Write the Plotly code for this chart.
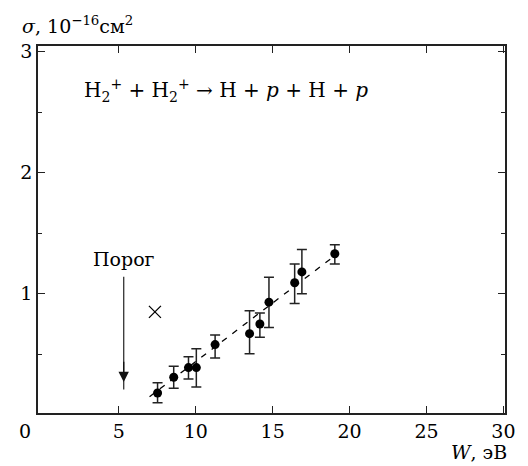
import plotly.graph_objects as go

# data
W = [7.52, 8.57, 9.53, 10.04, 11.26, 13.50, 14.17, 14.76, 16.43, 16.90, 19.04]
sigma = [0.18, 0.31, 0.39, 0.39, 0.58, 0.67, 0.75, 0.93, 1.09, 1.18, 1.33]
err_plus = [0.085, 0.09, 0.09, 0.155, 0.08, 0.19, 0.09, 0.205, 0.155, 0.185, 0.075]
err_minus = [0.08, 0.09, 0.095, 0.16, 0.11, 0.165, 0.11, 0.21, 0.17, 0.18, 0.085]
cross_W = [7.35]
cross_sigma = [0.85]
fit_W = [7.0, 19.0]
fit_sigma = [0.15, 1.31]
threshold_W = 5.32
x_ticks = [5, 10, 15, 20, 25, 30]
x_ticklabels = ["5", "10", "15", "20", "25", "30"]
y_ticks = [1, 2, 3]
y_ticklabels = ["1", "2", "3"]

FONT = "DejaVu Serif, Liberation Serif, serif"
FS = 19
fig = go.Figure()

fig.add_trace(go.Scatter(x=fit_W, y=fit_sigma, mode="lines",
                         line=dict(color="black", width=1.3, dash="6px,7px"),
                         showlegend=False, hoverinfo="skip"))
fig.add_trace(go.Scatter(
    x=W, y=sigma, mode="markers",
    marker=dict(color="black", size=9),
    error_y=dict(type="data", symmetric=False, array=err_plus, arrayminus=err_minus,
                 color="#222", thickness=1.5, width=5),
    showlegend=False))
fig.add_trace(go.Scatter(x=cross_W, y=cross_sigma, mode="markers",
                         marker=dict(symbol="x-thin", size=12, line=dict(color="black", width=1.3)),
                         showlegend=False))

# threshold arrow
fig.add_shape(type="line", x0=threshold_W, x1=threshold_W, y0=1.14, y1=0.21,
              line=dict(color="#333", width=1.3))
fig.add_annotation(x=threshold_W, y=0.27, ax=threshold_W, ay=0.45, xref="x", yref="y",
                   axref="x", ayref="y", text="", showarrow=True,
                   arrowhead=2, arrowsize=1.6, arrowwidth=1.3, arrowcolor="#111")
fig.add_annotation(x=threshold_W, y=1.29, text="Порог", showarrow=False,
                   font=dict(family=FONT, size=FS, color="black"))

fig.add_annotation(x=2.6, y=2.68, xanchor="left", yanchor="middle",
                   text="H<sub>2</sub><sup>+</sup> + H<sub>2</sub><sup>+</sup> → H + <i>p</i> + H + <i>p</i>",
                   showarrow=False, font=dict(family=FONT, size=20, color="black"))

# axis titles
fig.add_annotation(x=0, y=1.058, xref="paper", yref="paper", xanchor="left", yanchor="middle",
                   xshift=-18, text="<i>σ</i>, 10<sup>−16</sup>см<sup>2</sup>", showarrow=False,
                   font=dict(family=FONT, size=FS, color="black"))
fig.add_annotation(x=1, y=0, xref="paper", yref="paper", xanchor="right", yanchor="top",
                   xshift=4, yshift=-26, text="<i>W</i>, эВ", showarrow=False,
                   font=dict(family=FONT, size=FS, color="black"))
fig.add_annotation(x=0, y=0, xref="paper", yref="paper", xanchor="center", yanchor="top",
                   xshift=-13, yshift=-5, text="0", showarrow=False,
                   font=dict(family=FONT, size=FS, color="black"))

fig.update_xaxes(range=[-0.25, 30.1], tickvals=x_ticks, ticktext=x_ticklabels,
                 ticks="inside", ticklen=7, tickwidth=1.2, tickcolor="#222",
                 showline=True, linecolor="#222", linewidth=1.5, mirror="allticks",
                 showgrid=False, zeroline=False,
                 tickfont=dict(family=FONT, size=FS, color="black"))
fig.update_yaxes(range=[0.015, 3.045], tickvals=y_ticks, ticktext=y_ticklabels,
                 ticks="inside", ticklen=7, tickwidth=1.2, tickcolor="#222",
                 minor=dict(dtick=0.5, tick0=0, ticks="inside", ticklen=4, tickcolor="#222"),
                 showline=True, linecolor="#222", linewidth=1.5, mirror="allticks",
                 showgrid=False, zeroline=False,
                 tickfont=dict(family=FONT, size=FS, color="black"))

# the page body adds an 8px offset, so the figure is 8px smaller and shifted
fig.update_layout(width=520, height=458, margin=dict(l=25, r=22, t=38, b=53),
                  paper_bgcolor="white", plot_bgcolor="white", showlegend=False,
                  font=dict(family=FONT, size=FS, color="black"))

fig.write_html("out.html")
